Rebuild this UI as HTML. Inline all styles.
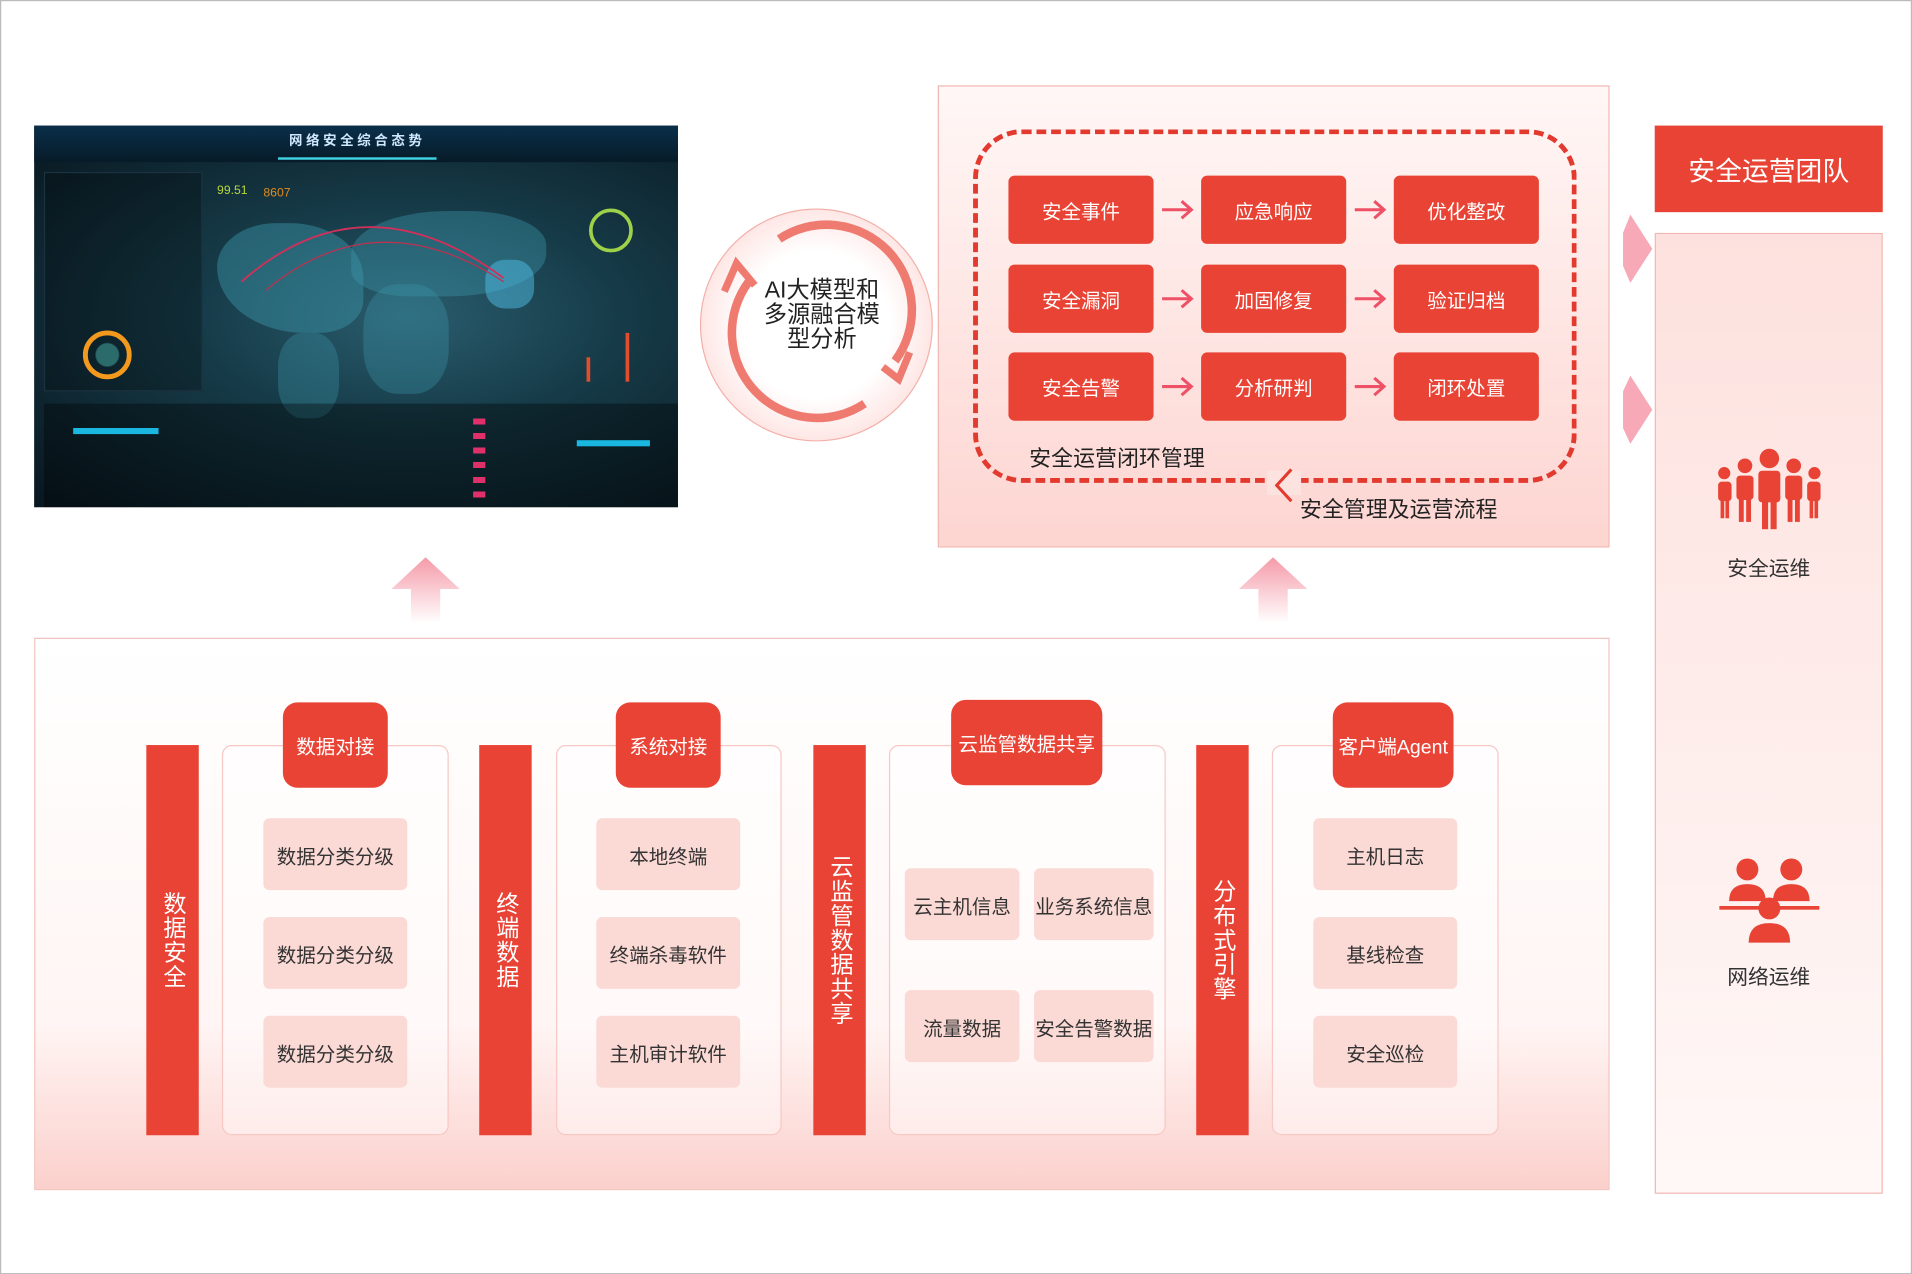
<!DOCTYPE html>
<html><head><meta charset="utf-8">
<style>
*{margin:0;padding:0;box-sizing:border-box}
body{width:1912px;height:1274px;overflow:hidden;background:#fff;font-family:"Liberation Sans","Noto Sans CJK SC",sans-serif}
#s{position:absolute;left:0;top:0;width:1568px;height:1045px;transform:scale(1.2194);transform-origin:0 0;border:1px solid #bbb}
.a{position:absolute}
.btn{position:absolute;background:#e84335;color:#fff;border-radius:5px;font-size:16px;display:flex;align-items:center;justify-content:center;width:119px;height:56px}
.arr{position:absolute}
.bar{position:absolute;background:#e84335;color:#fff;width:43px;top:610px;height:320px;font-size:19px;display:flex;align-items:center;justify-content:center;writing-mode:vertical-rl;text-orientation:upright;letter-spacing:1px}
.grp{position:absolute;top:610px;height:320px;border:1px solid #f8c8c4;border-radius:8px;background:rgba(255,255,255,.45)}
.tab{position:absolute;background:#e84335;color:#fff;border-radius:12px;font-size:16px;display:flex;align-items:center;justify-content:center}
.it{position:absolute;background:#fbd9d5;border-radius:5px;color:#333;font-size:16px;display:flex;align-items:center;justify-content:center}
</style></head><body><div id="s">

<!-- dashboard -->
<div class="a" style="left:27px;top:102px;width:528px;height:313px;background:radial-gradient(ellipse at 58% 50%,#2a5d6e 0%,#163b48 40%,#08161f 100%);overflow:hidden">
 <div class="a" style="left:0;top:0;width:528px;height:30px;background:linear-gradient(#0a2f4a,#071b28)"></div>
 <div class="a" style="left:195px;top:4px;width:140px;color:#cfe8ff;font-size:11px;font-weight:bold;letter-spacing:3px;text-align:center">网络安全综合态势</div>
 <div class="a" style="left:200px;top:26px;width:130px;height:2px;background:#3fd3e0"></div>
 <div class="a" style="left:8px;top:38px;width:130px;height:180px;border:1px solid #1b3340;background:rgba(0,0,0,.25)"></div>
 <div class="a" style="left:40px;top:168px;width:40px;height:40px;border:4px solid #f39a1e;border-radius:50%;background:radial-gradient(#2c6b6b 40%,transparent 45%)"></div>
 <div class="a" style="left:150px;top:48px;color:#b7d83a;font-size:10px">99.51</div>
 <div class="a" style="left:188px;top:50px;color:#e38a1b;font-size:10px">8607</div>
 <div class="a" style="left:150px;top:80px;width:120px;height:90px;border-radius:40% 50% 30% 60%;background:rgba(60,150,170,.45)"></div>
 <div class="a" style="left:260px;top:70px;width:160px;height:70px;border-radius:50% 40% 50% 30%;background:rgba(60,150,170,.4)"></div>
 <div class="a" style="left:270px;top:130px;width:70px;height:90px;border-radius:40%;background:rgba(60,150,170,.35)"></div>
 <div class="a" style="left:200px;top:170px;width:50px;height:70px;border-radius:40%;background:rgba(60,150,170,.35)"></div>
 <div class="a" style="left:370px;top:110px;width:40px;height:40px;border-radius:40%;background:rgba(80,190,230,.5)"></div>
 <svg class="a" style="left:0;top:0" width="528" height="313"><path d="M170 128 Q270 40 385 125" fill="none" stroke="#d0305a" stroke-width="1.5"/><path d="M190 135 Q280 60 385 128" fill="none" stroke="#c03050" stroke-width="1"/></svg>
 <div class="a" style="left:455px;top:68px;width:36px;height:36px;border:3px solid #9dd14a;border-radius:50%"></div>
 <div class="a" style="left:8px;top:228px;width:520px;height:85px;background:rgba(0,0,0,.35)"></div>
 <div class="a" style="left:32px;top:248px;width:70px;height:5px;background:#1ab8e0"></div>
 <div class="a" style="left:445px;top:258px;width:60px;height:5px;background:#1ab8e0"></div>
 <div class="a" style="left:485px;top:170px;width:3px;height:40px;background:#e34c2c"></div>
 <div class="a" style="left:453px;top:190px;width:3px;height:20px;background:#e34c2c"></div>
 <div class="a" style="left:360px;top:240px;width:10px;height:70px;background:repeating-linear-gradient(#e0306a 0 5px,transparent 5px 12px)"></div>
</div>

<!-- circle -->
<div class="a" style="left:573px;top:170px;width:191px;height:191px;border-radius:50%;background:radial-gradient(#fff 45%,#fde3e1 75%,#f6b8b3 100%);border:1px solid #f3b0aa"></div>
<svg class="a" style="left:573px;top:170px" width="191" height="191"><path d="M40 60 A70 70 0 0 0 135 160" fill="none" stroke="#ef7a70" stroke-width="7"/><path d="M65 25 A70 70 0 0 1 160 125" fill="none" stroke="#ef7a70" stroke-width="7"/><path d="M150 130 L163 140 L172 118" fill="none" stroke="#ef7a70" stroke-width="6"/><path d="M20 68 L30 45 L45 63" fill="none" stroke="#ef7a70" stroke-width="6"/></svg>
<div class="a" style="left:615px;top:228px;width:116px;text-align:center;font-size:19px;line-height:20px;color:#222">AI大模型和<br>多源融合模<br>型分析</div>

<!-- top right panel -->
<div class="a" style="left:768px;top:69px;width:551px;height:379px;background:linear-gradient(#fff7f6,#fdd5d1);border:1px solid #f2b7b1"></div>
<div class="a" style="left:797px;top:105px;width:495px;height:290px;border:4px dashed #e33a2f;border-radius:40px"></div>
<div class="a" style="left:1038px;top:385px;width:28px;height:20px;background:#fde3e0"></div>
<svg class="a" style="left:1042px;top:382px" width="20" height="30"><path d="M16 2 L4 15 L16 28" fill="none" stroke="#e33a2f" stroke-width="2.5"/></svg>
<div class="btn" style="left:826px;top:143px">安全事件</div><div class="btn" style="left:984px;top:143px">应急响应</div><div class="btn" style="left:1142px;top:143px">优化整改</div>
<div class="btn" style="left:826px;top:216px">安全漏洞</div><div class="btn" style="left:984px;top:216px">加固修复</div><div class="btn" style="left:1142px;top:216px">验证归档</div>
<div class="btn" style="left:826px;top:288px">安全告警</div><div class="btn" style="left:984px;top:288px">分析研判</div><div class="btn" style="left:1142px;top:288px">闭环处置</div>
<svg class="arr" style="left:950px;top:161px" width="30" height="20"><path d="M2 10 H26 M18 3 L26 10 L18 17" fill="none" stroke="#ee5066" stroke-width="2.5"/></svg>
<svg class="arr" style="left:1108px;top:161px" width="30" height="20"><path d="M2 10 H26 M18 3 L26 10 L18 17" fill="none" stroke="#ee5066" stroke-width="2.5"/></svg>
<svg class="arr" style="left:950px;top:234px" width="30" height="20"><path d="M2 10 H26 M18 3 L26 10 L18 17" fill="none" stroke="#ee5066" stroke-width="2.5"/></svg>
<svg class="arr" style="left:1108px;top:234px" width="30" height="20"><path d="M2 10 H26 M18 3 L26 10 L18 17" fill="none" stroke="#ee5066" stroke-width="2.5"/></svg>
<svg class="arr" style="left:950px;top:306px" width="30" height="20"><path d="M2 10 H26 M18 3 L26 10 L18 17" fill="none" stroke="#ee5066" stroke-width="2.5"/></svg>
<svg class="arr" style="left:1108px;top:306px" width="30" height="20"><path d="M2 10 H26 M18 3 L26 10 L18 17" fill="none" stroke="#ee5066" stroke-width="2.5"/></svg>
<div class="a" style="left:843px;top:361px;font-size:18px;color:#222">安全运营闭环管理</div>
<div class="a" style="left:1065px;top:403px;font-size:18px;color:#222">安全管理及运营流程</div>

<!-- right column -->
<div class="a" style="left:1356px;top:102px;width:187px;height:71px;background:#e84335;color:#fff;font-size:22px;display:flex;align-items:center;justify-content:center">安全运营团队</div>
<div class="a" style="left:1356px;top:190px;width:187px;height:788px;background:linear-gradient(#fde1de,#fff8f7);border:1px solid #f2b7b1"></div>
<svg class="a" style="left:1326px;top:175px" width="30" height="190"><polygon points="4,15 10,0 28,28 10,56 4,42" fill="#f7a9b7"/><polygon points="4,145 10,132 28,160 10,188 4,175" fill="#f7a9b7"/></svg>
<svg class="a" style="left:1405px;top:365px" width="90" height="70" fill="#e84335">
<circle cx="45" cy="10" r="8"/><rect x="36" y="20" width="18" height="26" rx="3"/><rect x="39" y="44" width="5" height="24"/><rect x="46" y="44" width="5" height="24"/>
<circle cx="25" cy="16" r="6"/><rect x="18" y="24" width="14" height="20" rx="3"/><rect x="20" y="42" width="4" height="20"/><rect x="26" y="42" width="4" height="20"/>
<circle cx="65" cy="16" r="6"/><rect x="58" y="24" width="14" height="20" rx="3"/><rect x="60" y="42" width="4" height="20"/><rect x="66" y="42" width="4" height="20"/>
<circle cx="8" cy="22" r="5"/><rect x="3" y="29" width="11" height="16" rx="3"/><rect x="5" y="43" width="3" height="16"/><rect x="9" y="43" width="3" height="16"/>
<circle cx="82" cy="22" r="5"/><rect x="76" y="29" width="11" height="16" rx="3"/><rect x="78" y="43" width="3" height="16"/><rect x="82" y="43" width="3" height="16"/></svg>
<div class="a" style="left:1356px;top:451px;width:187px;text-align:center;font-size:17px;color:#333">安全运维</div>
<svg class="a" style="left:1405px;top:700px" width="90" height="76" fill="#e84335">
<circle cx="27" cy="12" r="9"/><path d="M12 38 Q12 24 27 24 Q42 24 42 38Z"/>
<circle cx="63" cy="12" r="9"/><path d="M48 38 Q48 24 63 24 Q78 24 78 38Z"/>
<rect x="4" y="42" width="82" height="3"/>
<circle cx="45" cy="44" r="9"/><path d="M28 72 Q28 56 45 56 Q62 56 62 72Z"/></svg>
<div class="a" style="left:1356px;top:786px;width:187px;text-align:center;font-size:17px;color:#333">网络运维</div>

<!-- up arrows -->
<svg class="a" style="left:318px;top:456px" width="60" height="55"><defs><linearGradient id="g" x1="0" y1="0" x2="0" y2="1"><stop offset="0" stop-color="#f59aa8"/><stop offset="1" stop-color="#fff"/></linearGradient></defs><polygon points="30,0 58,26 42,26 42,54 18,54 18,26 2,26" fill="url(#g)"/></svg>
<svg class="a" style="left:1013px;top:456px" width="60" height="55"><polygon points="30,0 58,26 42,26 42,54 18,54 18,26 2,26" fill="url(#g)"/></svg>

<!-- bottom panel -->
<div class="a" style="left:27px;top:522px;width:1292px;height:453px;background:linear-gradient(#fff,#fff5f4 70%,#fbd0cc);border:1px solid #f3c3be"></div>
<div class="bar" style="left:119px">数据安全</div>
<div class="bar" style="left:392px">终端数据</div>
<div class="bar" style="left:666px">云监管数据共享</div>
<div class="bar" style="left:980px">分布式引擎</div>
<div class="grp" style="left:181px;width:186px"></div>
<div class="grp" style="left:455px;width:185px"></div>
<div class="grp" style="left:728px;width:227px"></div>
<div class="grp" style="left:1042px;width:186px"></div>
<div class="tab" style="left:231px;top:575px;width:86px;height:70px">数据对接</div>
<div class="tab" style="left:504px;top:575px;width:86px;height:70px">系统对接</div>
<div class="tab" style="left:779px;top:573px;width:124px;height:70px">云监管数据共享</div>
<div class="tab" style="left:1092px;top:575px;width:99px;height:70px">客户端Agent</div>
<div class="it" style="left:215px;top:670px;width:118px;height:59px">数据分类分级</div>
<div class="it" style="left:215px;top:751px;width:118px;height:59px">数据分类分级</div>
<div class="it" style="left:215px;top:832px;width:118px;height:59px">数据分类分级</div>
<div class="it" style="left:488px;top:670px;width:118px;height:59px">本地终端</div>
<div class="it" style="left:488px;top:751px;width:118px;height:59px">终端杀毒软件</div>
<div class="it" style="left:488px;top:832px;width:118px;height:59px">主机审计软件</div>
<div class="it" style="left:741px;top:711px;width:94px;height:59px">云主机信息</div>
<div class="it" style="left:847px;top:711px;width:98px;height:59px">业务系统信息</div>
<div class="it" style="left:741px;top:811px;width:94px;height:59px">流量数据</div>
<div class="it" style="left:847px;top:811px;width:98px;height:59px">安全告警数据</div>
<div class="it" style="left:1076px;top:670px;width:118px;height:59px">主机日志</div>
<div class="it" style="left:1076px;top:751px;width:118px;height:59px">基线检查</div>
<div class="it" style="left:1076px;top:832px;width:118px;height:59px">安全巡检</div>
</div></body></html>
